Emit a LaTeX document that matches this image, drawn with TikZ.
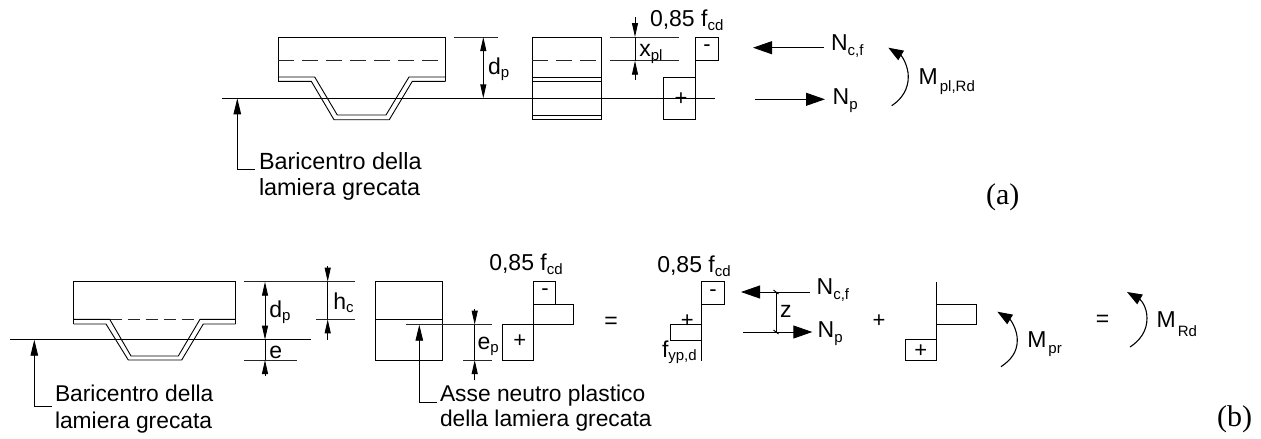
\documentclass[tikz,border=0pt]{standalone}
\usepackage{fontspec}
\setmainfont{Liberation Sans}
\newfontfamily\tnr{Liberation Serif}
\usetikzlibrary{arrows.meta}
\newcommand{\sbt}[2][5pt]{\raisebox{-#1}{\fontsize{15}{15}\selectfont #2}}
\tikzset{
  x=1pt,y=-1pt,
  ln/.style={line width=0.9pt,black},
  thin line/.style={line width=0.8pt,black!85},
  dash line/.style={line width=0.9pt,black!85,dash pattern=on 16pt off 8pt},
  dimtip/.style={-{Triangle[length=14pt,width=6pt]}},
  leadtip/.style={-{Triangle[length=16pt,width=7.5pt]}},
  forcetip/.style={-{Triangle[length=19pt,width=13pt]}},
  momtip/.style={-{Triangle[length=15pt,width=11pt]}},
  mom/.style={line width=1.1pt,momtip},
  txt/.style={anchor=base west,inner sep=0pt,outer sep=0pt,font=\fontsize{23}{26}\selectfont},
  txtbig/.style={txt,font=\fontsize{23.4}{26}\selectfont},
  txtsmall/.style={txt,font=\fontsize{22.8}{26}\selectfont},
  sgn/.style={anchor=center,inner sep=0pt,outer sep=0pt,font=\fontsize{22}{22}\selectfont},
  captxt/.style={anchor=base west,inner sep=0pt,outer sep=0pt,font=\tnr\fontsize{30}{30}\selectfont},
}
\begin{document}
\begin{tikzpicture}
\useasboundingbox (0,0) rectangle (1261,439);
% ---------------- (a) section
\draw[ln] (278,81.3) -- (278,37) -- (445.7,37) -- (445.7,81.3);
\draw[dash line] (278,60.7) -- (445.7,60.7);
\draw[ln] (278,77) -- (314.7,77) -- (337.3,115) -- (386,115) -- (409,77) -- (445.7,77);
\draw[ln] (278,81.3) -- (311.3,81.3) -- (334,119.7) -- (389.3,119.7) -- (412.3,81.3) -- (445.7,81.3);
\draw[ln] (222,98.3) -- (714.7,98.3);
\coordinate (aL) at (237.3,169);
\coordinate (aT) at (237.3,98.3);
\draw[ln,leadtip] (254.7,169) -- (aL) -- (aT);
\node[txtbig] (a1) at (259,169) {Baricentro della};
\node[txtbig] (a2) at (259,195) {lamiera grecata};
\draw[thin line] (454,37) -- (497.7,37);
\coordinate (dpT) at (483.3,37);
\coordinate (dpB) at (483.3,98.3);
\draw[ln,dimtip] (483.3,67) -- (dpT);
\draw[ln,dimtip] (483.3,67) -- (dpB);
\node[txt] (a3) at (488,74) {d\sbt[3pt]{p}};
% (a) middle
\draw[ln] (532.3,37) rectangle (601.3,119.3);
\draw[dash line] (532.3,60.7) -- (601.3,60.7);
\draw[ln] (532.3,77) -- (601.3,77);
\draw[ln] (532.3,81.3) -- (601.3,81.3);
\draw[ln] (532.3,115) -- (601.3,115);
\draw[thin line] (610,37) -- (678.7,37);
\draw[thin line] (610,60.7) -- (678.7,60.7);
\draw[ln,dimtip] (635,17) -- (635,37);
\draw[ln,dimtip] (635,80) -- (635,60.7);
\draw[ln] (635,37) -- (635,60.7);
\node[txt] (a4) at (639.3,56) {x\sbt[4pt]{pl}};
\node[txt] (a5) at (650,26) {0,85 f\sbt[4pt]{cd}};
% (a) stress
\draw[ln] (695.3,37) rectangle (718.7,60.7);
\draw[ln] (695.3,60.7) -- (695.3,77);
\draw[ln] (663.3,77) rectangle (695.3,119.3);
\node[sgn] (a6) at (707,48) {-};
\node[sgn] (a7) at (681,99) {+};
% (a) forces
\draw[ln,forcetip] (824,47.7) -- (753,47.7);
\draw[ln,forcetip] (755,99.3) -- (825,99.3);
\node[txt] (a8) at (831,50) {N\sbt{c,f}};
\node[txt] (a9) at (832.7,104) {N\sbt{p}};
\draw[mom] (891.7,105.7) .. controls (902,99) and (908.3,89) .. (908.3,76.7) .. controls (908.3,66) and (902,56) .. (888.3,47.7);
\node[txt] (a10) at (918.7,84) {M\hspace{2pt}\sbt[7pt]{pl,Rd}};
\node[captxt] (capa) at (986,204.3) {(a)};
% ---------------- (b) section
\draw[ln] (73.7,324) -- (73.7,281.7) -- (235.7,281.7) -- (235.7,324);
\draw[dash line,dash pattern=on 12pt off 6pt] (109.7,319.3) -- (200,319.3);
\draw[ln] (73.7,319.3) -- (109.7,319.3) -- (131,356) -- (178.3,356) -- (200,319.3) -- (235.7,319.3);
\draw[ln] (73.7,324) -- (106,324) -- (128.3,360) -- (181.7,360) -- (203.3,324) -- (235.7,324);
\draw[ln] (10,339.7) -- (310.7,339.7);
\draw[ln,leadtip] (51.7,406.7) -- (34.3,406.7) -- (34.3,339.7);
\node[txtsmall] (b1) at (55,401.7) {Baricentro della};
\node[txtsmall] (b2) at (55,428.5) {lamiera grecata};
% dims
\draw[thin line] (244.3,281.7) -- (355,281.7);
\draw[thin line] (244.3,360) -- (297.3,360);
\draw[thin line] (316,319.3) -- (355,319.3);
\draw[ln,dimtip] (265,310) -- (265,281.7);
\draw[ln,dimtip] (265,310) -- (265,339.7);
\draw[ln] (265,339.7) -- (265,360);
\draw[ln,dimtip] (265,375.7) -- (265,360);
\node[txt] (b3) at (269.3,317.3) {d\sbt[3pt]{p}};
\node[txt] (b4) at (269.3,358.3) {e};
\draw[ln,dimtip] (327.7,266) -- (327.7,281.7);
\draw[ln] (327.7,281.7) -- (327.7,319.3);
\draw[ln,dimtip] (327.7,339.7) -- (327.7,319.3);
\node[txt] (b5) at (333.3,309.3) {h\sbt[3pt]{c}};
% (b) middle
\draw[ln] (375.7,281.7) rectangle (442.3,360);
\draw[ln] (375.7,319.3) -- (442.3,319.3);
\draw[thin line] (406,324.7) -- (491.7,324.7);
\draw[ln,leadtip] (436.7,402.3) -- (419.3,402.3) -- (419.3,324.7);
\draw[ln,dimtip] (474.7,309.3) -- (474.7,324.7);
\draw[ln] (474.7,324.7) -- (474.7,360);
\draw[ln,dimtip] (474.7,380) -- (474.7,360);
\draw[thin line] (463.3,360) -- (491.7,360);
\node[txt] (b6) at (477.7,349.3) {e\sbt[3pt]{p}};
\node[txtsmall] (b7) at (440,401) {Asse neutro plastico};
\node[txtsmall] (b8) at (440,426.7) {della lamiera grecata};
% (b) stress 1
\node[txt] (b9) at (489.3,270.7) {0,85 f\sbt[4pt]{cd}};
\draw[ln] (533.3,281.7) rectangle (555.7,304);
\draw[ln] (533.3,304) rectangle (573.3,324.7);
\draw[ln] (502.7,324.7) rectangle (533.3,360);
\node[sgn] (b10) at (545,292) {-};
\node[sgn] (b11) at (519.7,341) {+};
\node[txt,anchor=center] (b12) at (611,322.7) {=};
% (b) stress 2
\node[txt] (b13) at (657.3,272.7) {0,85 f\sbt[4pt]{cd}};
\draw[ln] (701.7,281.7) -- (701.7,361);
\draw[ln] (701.7,281.7) rectangle (724.3,304);
\draw[ln] (670.7,324.7) rectangle (701.7,340);
\node[sgn] (b14) at (713,293) {-};
\node[sgn] (b15) at (687.3,320.7) {+};
\node[txt] (b16) at (662,357) {f\sbt[3pt]{yp,d}};
\draw[ln,forcetip] (810,292) -- (741,292);
\draw[ln,forcetip] (743.3,332) -- (812.3,332);
\coordinate (zT) at (776,292);
\coordinate (zB) at (776,332);
\draw[ln] (zT) -- (zB);
\draw[ln] (773.5,290) -- (778.5,294);
\draw[ln] (773.5,330) -- (778.5,334);
\node[txt] (b17) at (780,317.7) {z};
\node[txt] (b18) at (816.7,294) {N\sbt{c,f}};
\node[txt] (b19) at (817.7,337) {N\sbt{p}};
\node[sgn] (b20) at (879,320.7) {+};
% (b) stress 3
\draw[ln] (936.7,282.3) -- (936.7,360);
\draw[ln] (905.7,339.3) rectangle (936.7,360);
\draw[ln] (936.7,304) rectangle (976.7,324.7);
\node[sgn] (b21) at (920.7,350.7) {+};
\draw[mom] (1001,366.7) .. controls (1011,360) and (1017.3,352) .. (1017.3,340) .. controls (1017.3,330) and (1011,320) .. (997.3,311.7);
\node[txt] (b22) at (1027.3,347) {M\hspace{2pt}\sbt[6pt]{pr}};
\node[txt,anchor=center] (b23) at (1102.7,321) {=};
\draw[mom] (1130,347) .. controls (1140,340.5) and (1147,331) .. (1147,318.3) .. controls (1147,307) and (1141,300) .. (1127,292);
\node[txt] (b24) at (1156.7,327) {M\hspace{2pt}\sbt[9pt]{Rd}};
\node[captxt] (capb) at (1217,426.7) {(b)};
\end{tikzpicture}
\end{document}
